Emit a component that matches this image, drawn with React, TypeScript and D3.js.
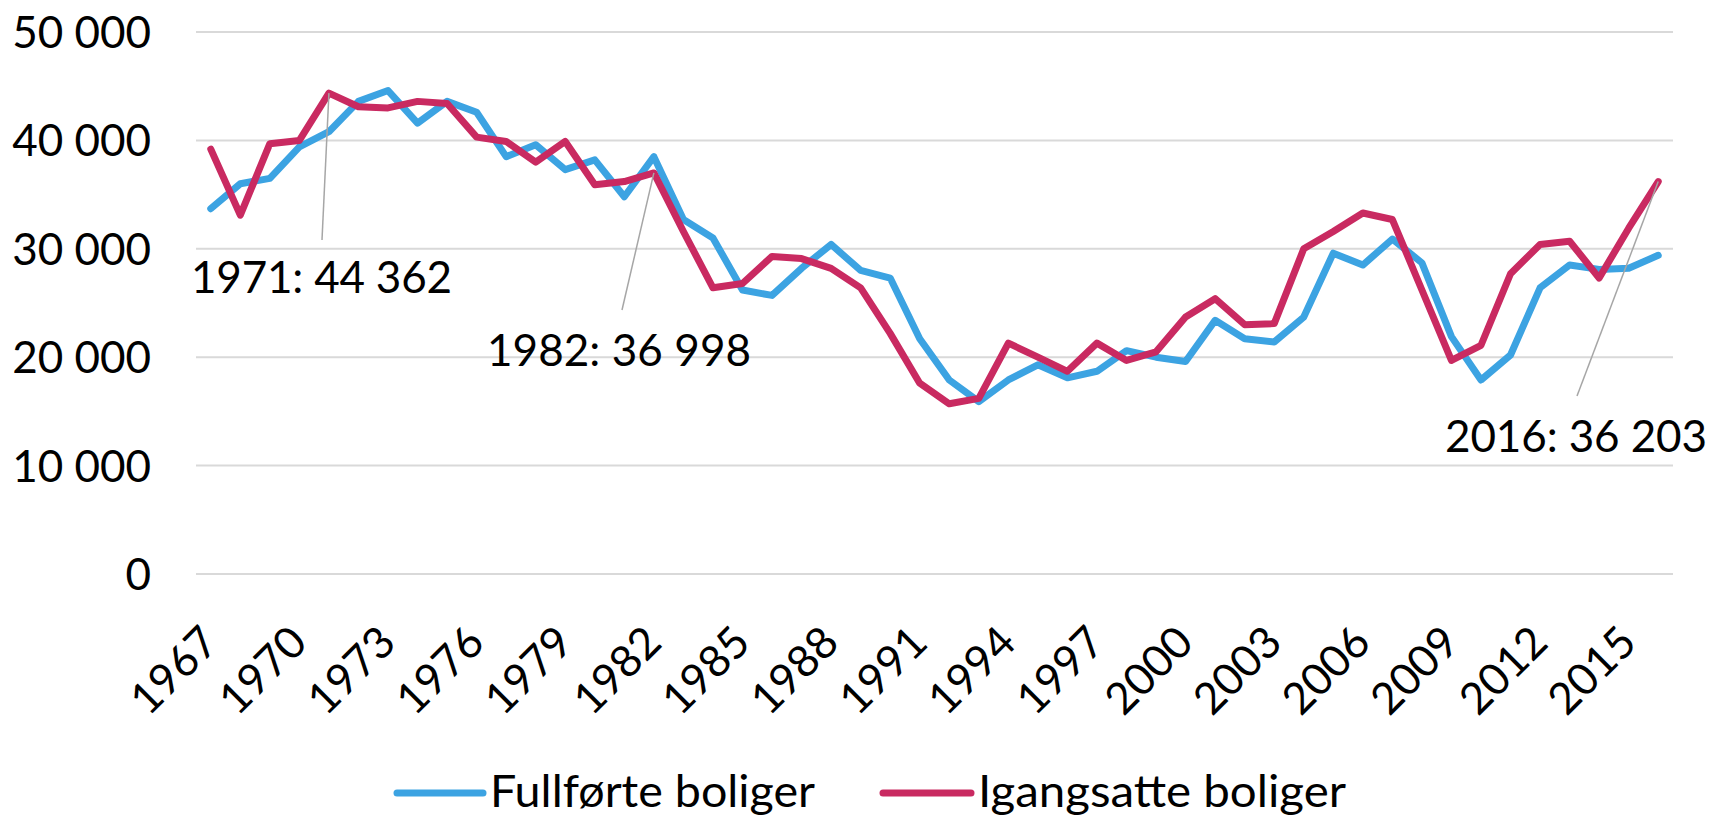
import React from "react";
import * as d3 from "d3";

const years: number[] = d3.range(1967, 2017);

const fullforte: number[] = [
  33700, 36000, 36500, 39400, 40800, 43600, 44600, 41600, 43600, 42600,
  38500, 39600, 37300, 38200, 34800, 38500, 32700, 31000, 26200, 25700,
  28200, 30400, 28000, 27300, 21700, 17900, 15900, 17900, 19300, 18100,
  18700, 20600, 20000, 19600, 23400, 21700, 21400, 23700, 29600, 28500,
  30900, 28700, 21900, 17900, 20200, 26400, 28500, 28100, 28200, 29400,
];

const igangsatte: number[] = [
  39200, 33100, 39700, 40000, 44362, 43100, 43000, 43600, 43400, 40300,
  39900, 38000, 39900, 35900, 36200, 36998, 31600, 26400, 26800, 29300,
  29100, 28200, 26400, 22200, 17600, 15700, 16200, 21300, 20000, 18700,
  21300, 19700, 20500, 23700, 25400, 23000, 23100, 30000, 31600, 33300,
  32700, 26200, 19700, 21100, 27700, 30400, 30700, 27300, 31900, 36203,
];

const yTicks: number[] = [0, 10000, 20000, 30000, 40000, 50000];
const xTickYears: number[] = years.filter((y) => (y - 1967) % 3 === 0);

const seriesNames: string[] = ["Fullførte boliger", "Igangsatte boliger"];
const seriesColors: string[] = ["#3CA3E2", "#C92A61"];

const annotationYears: number[] = [1971, 1982, 2016];

const W = 1727;
const H = 815;
const FONT = "Lato, 'Open Sans', sans-serif";

const locale = d3.formatLocale({
  decimal: ",",
  thousands: " ",
  grouping: [3],
  currency: ["", " kr"],
});
const fmt = locale.format(",d");

export default function App() {
  const x = d3.scaleBand<number>().domain(years).range([196, 1673]);
  const xc = (yr: number) => (x(yr) as number) + x.bandwidth() / 2;
  const y = d3.scaleLinear().domain([0, 50000]).range([574, 32]);

  const line = d3
    .line<number>()
    .x((_, i) => xc(years[i]))
    .y((d) => y(d));

  const series = [fullforte, igangsatte];

  // annotation label positions (layout)
  const annLayout: { [k: number]: { lx: number; ly: number; tx: number; ty: number; w: number } } = {
    1971: { lx: 322, ly: 240, tx: 191, ty: 293, w: 261 },
    1982: { lx: 622, ly: 310, tx: 487, ty: 366, w: 264 },
    2016: { lx: 1577, ly: 396, tx: 1445, ty: 452, w: 262 },
  };

  const legendItems = [
    { x1: 397, x2: 483, tx: 490, w: 325 },
    { x1: 883, x2: 971, tx: 978, w: 368 },
  ];

  return (
    <svg
      width={W}
      height={H}
      style={{ position: "absolute", left: 0, top: 0, background: "#fff" }}
      fontFamily={FONT}
    >
      <rect x={0} y={0} width={W} height={H} fill="#fff" />
      {yTicks.map((t) => (
        <g key={t}>
          <line x1={196} x2={1673} y1={y(t)} y2={y(t)} stroke="#D9D9D9" strokeWidth={2} />
          <text x={151} y={y(t) + 16} textAnchor="end" fontSize={44} fill="#000">
            {fmt(t)}
          </text>
        </g>
      ))}
      {xTickYears.map((yr) => (
        <text
          key={yr}
          transform={`translate(${xc(yr) + 10},${645}) rotate(-45)`}
          textAnchor="end"
          fontSize={44}
          fill="#000"
        >
          {yr}
        </text>
      ))}
      {series.map((s, i) => (
        <path
          key={i}
          d={line(s) as string}
          fill="none"
          stroke={seriesColors[i]}
          strokeWidth={7}
          strokeLinejoin="round"
          strokeLinecap="round"
        />
      ))}
      {annotationYears.map((yr) => {
        const i = years.indexOf(yr);
        const v = igangsatte[i];
        const L = annLayout[yr];
        return (
          <g key={yr}>
            <line x1={xc(yr)} y1={y(v)} x2={L.lx} y2={L.ly} stroke="#A6A6A6" strokeWidth={1.5} />
            <text x={L.tx} y={L.ty} fontSize={44} fill="#000" textLength={L.w} lengthAdjust="spacing">
              {`${yr}: ${fmt(v)}`}
            </text>
          </g>
        );
      })}
      {legendItems.map((it, i) => (
        <g key={i}>
          <line x1={it.x1} x2={it.x2} y1={793} y2={793} stroke={seriesColors[i]} strokeWidth={7} strokeLinecap="round" />
          <text x={it.tx} y={807} fontSize={44} fill="#000" textLength={it.w} lengthAdjust="spacingAndGlyphs">
            {seriesNames[i]}
          </text>
        </g>
      ))}
    </svg>
  );
}
